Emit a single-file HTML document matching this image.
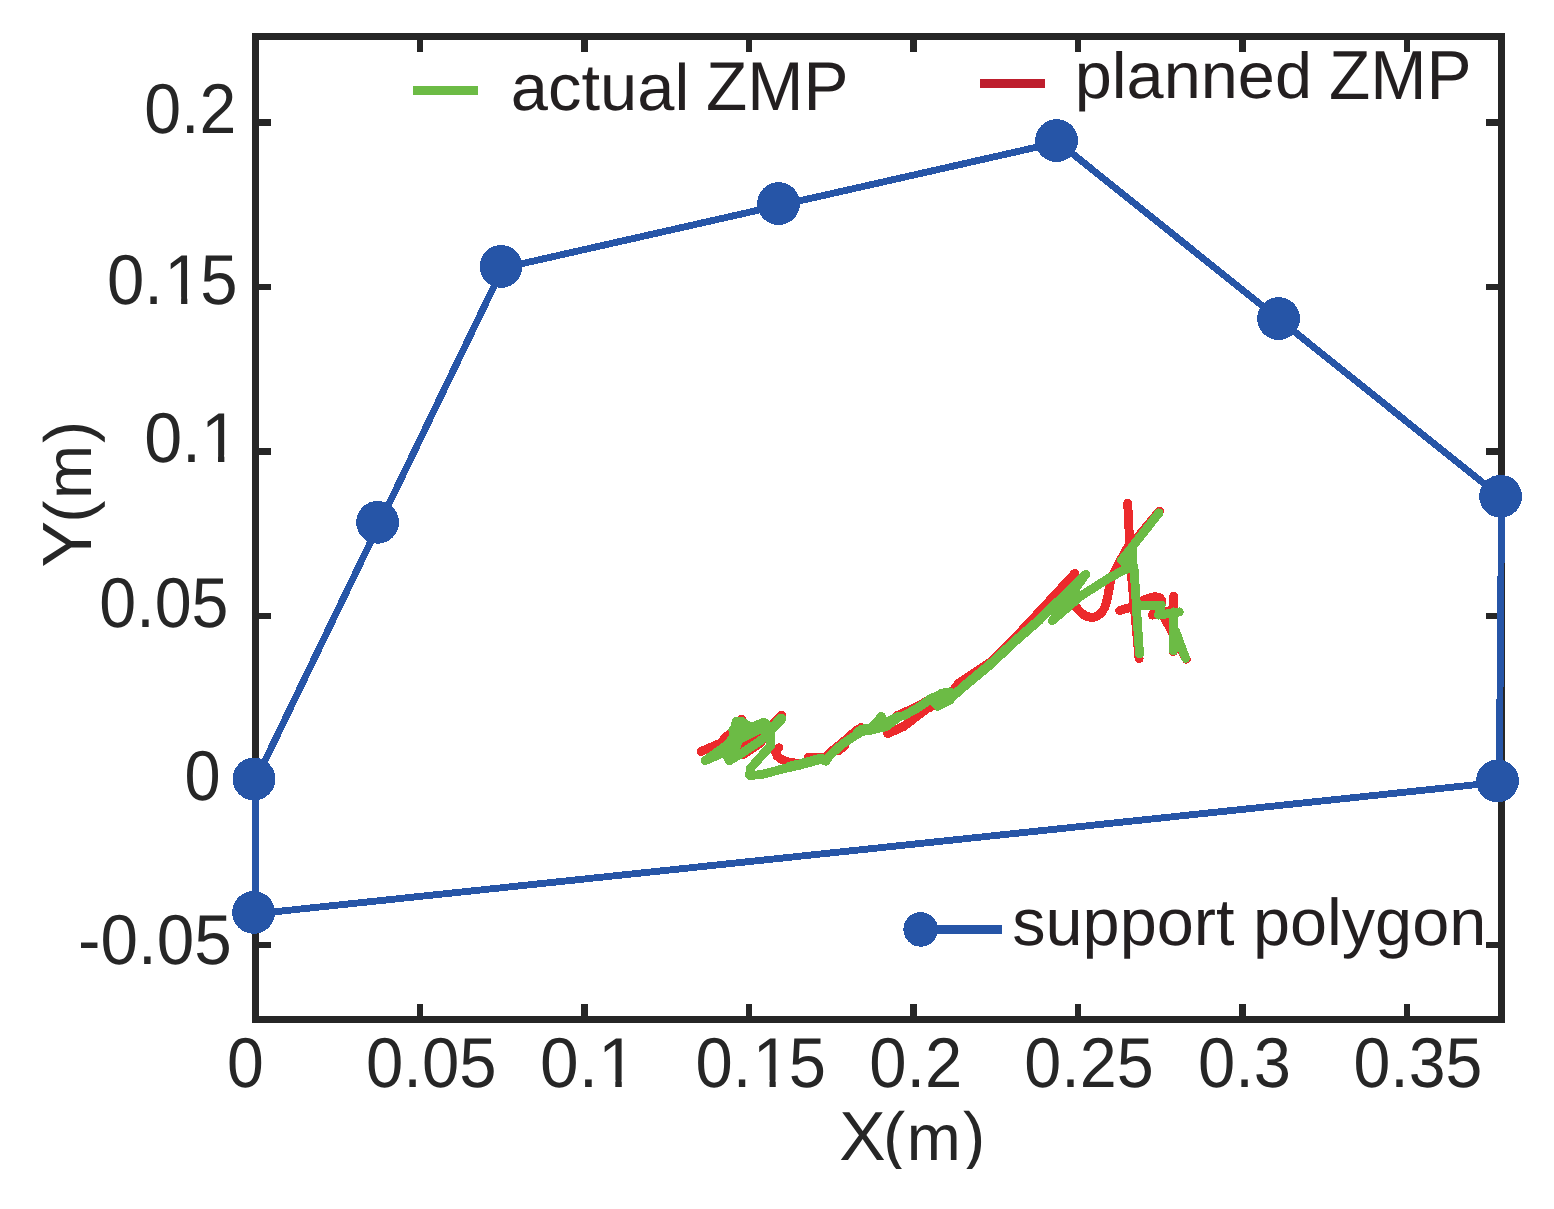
<!DOCTYPE html>
<html lang="en">
<head>
<meta charset="utf-8">
<title>ZMP tracking inside the support polygon</title>
<style>
html,body{margin:0;padding:0;background:#fff;}
body{width:1554px;height:1209px;overflow:hidden;}
svg{display:block;}
text{white-space:pre;}
</style>
</head>
<body>
<svg width="1554" height="1209" viewBox="0 0 1554 1209" role="img">
<title>ZMP tracking inside the support polygon</title>
<desc>Plot of the actual ZMP (green) and planned ZMP (red) trajectories inside the support polygon (blue). Horizontal axis X(m): 0, 0.05, 0.1, 0.15, 0.2, 0.25, 0.3, 0.35. Vertical axis Y(m): -0.05, 0, 0.05, 0.1, 0.15, 0.2.</desc>
<g shape-rendering="crispEdges">
<rect x="255.50" y="36.50" width="1246.00" height="983.00" fill="none" stroke="#262626" stroke-width="6.50"/>
<path d="M420.00 36.50 V52.00 M420.00 1019.50 V1004.00 M584.50 36.50 V52.00 M584.50 1019.50 V1004.00 M749.00 36.50 V52.00 M749.00 1019.50 V1004.00 M913.50 36.50 V52.00 M913.50 1019.50 V1004.00 M1078.00 36.50 V52.00 M1078.00 1019.50 V1004.00 M1242.50 36.50 V52.00 M1242.50 1019.50 V1004.00 M1407.00 36.50 V52.00 M1407.00 1019.50 V1004.00 M255.50 122.40 H271.00 M1501.50 122.40 H1486.00 M255.50 286.90 H271.00 M1501.50 286.90 H1486.00 M255.50 451.40 H271.00 M1501.50 451.40 H1486.00 M255.50 615.90 H271.00 M1501.50 615.90 H1486.00 M255.50 780.40 H271.00 M1501.50 780.40 H1486.00 M255.50 944.90 H271.00 M1501.50 944.90 H1486.00" fill="none" stroke="#262626" stroke-width="6.50"/>
<g fill="none" stroke-linecap="round" stroke-linejoin="round">
<path stroke="#ec2a2c" stroke-width="8.9" d="M701.0 751.4 L721.7 742.7 L724.2 738.8 L735.5 728.5 L741.6 719.1"/>
<path stroke="#ec2a2c" stroke-width="8.9" d="M781.8 715.2 L769.7 727.7"/>
<path stroke="#ec2a2c" stroke-width="8.9" d="M739.8 745.5 L758.3 735.6"/>
<path stroke="#ec2a2c" stroke-width="8.9" d="M743.2 754.6 L761.1 742.7"/>
<path stroke="#ec2a2c" stroke-width="8.9" d="M778.9 747.8 L775.4 751.2 L777.2 756.2 L782.5 760.1 L789.6 762.6 L791.6 762.4 L799.1 763.6"/>
<path stroke="#ec2a2c" stroke-width="8.9" d="M808.4 757.3 L820.5 757.3 L826.3 757.0 L830.4 752.1 L837.9 746.3 L843.7 741.4 L855.3 731.3 L861.1 727.5"/>
<path stroke="#ec2a2c" stroke-width="8.9" d="M837.9 751.0 L844.9 745.8"/>
<path stroke="#ec2a2c" stroke-width="8.9" d="M897.1 715.6 L917.9 706.3 L929.5 699.4"/>
<path stroke="#ec2a2c" stroke-width="8.9" d="M887.7 733.7 L903.6 726.5 L930.8 705.7 L929.7 707.7 L950.5 693.8 L958.6 683.4 L990.1 662.2 L1015.4 637.4 L1035.6 615.8 L1074.9 573.3"/>
<path stroke="#ec2a2c" stroke-width="8.9" d="M1075.8 606.6 L1080.3 612.0 L1085.7 616.1 L1092.0 617.6 L1097.4 616.1 L1101.9 612.5 L1105.1 606.6 L1107.4 598.5 L1109.2 588.6 L1111.0 578.7 L1118.2 564.3 L1127.2 548.0"/>
<path stroke="#ec2a2c" stroke-width="8.9" d="M1127.7 503.3 L1129.7 543.1 L1131.0 570.0 L1139.1 658.8"/>
<path stroke="#ec2a2c" stroke-width="8.9" d="M1159.4 511.1 L1129.7 546.7"/>
<path stroke="#ec2a2c" stroke-width="8.9" d="M1119.7 610.6 L1131.5 607.0 L1140.5 601.6 L1148.6 598.1 L1154.9 596.7 L1159.4 597.5 L1162.1 600.6 L1158.5 608.8 L1152.2 615.1 L1173.8 609.7"/>
<path stroke="#ec2a2c" stroke-width="8.9" d="M1173.8 596.1 L1173.4 651.6"/>
<path stroke="#ec2a2c" stroke-width="8.9" d="M1164.8 618.7 L1173.8 634.9 L1186.3 659.2"/>
<path stroke="#6cbb45" stroke-width="8.9" d="M705.2 760.6 L726.3 745.5 L732.7 738.4 L736.2 721.3 L741.2 721.3 L751.2 727.4 L764.0 722.2 L770.4 728.5"/>
<path stroke="#6cbb45" stroke-width="8.9" d="M705.2 760.6 L724.2 752.3 L729.5 760.6 L742.2 753.0 L760.0 740.9 L768.3 734.2"/>
<path stroke="#6cbb45" stroke-width="8.9" d="M729.8 745.5 L740.2 739.1 L755.2 731.3 L764.0 727.0"/>
<path stroke="#6cbb45" stroke-width="8.9" d="M732.7 729.9 L744.1 729.9 L761.1 729.9"/>
<path stroke="#6cbb45" stroke-width="8.9" d="M724.2 752.3 L735.5 749.1 L739.8 735.6"/>
<path stroke="#6cbb45" stroke-width="8.9" d="M781.8 718.0 L770.8 729.9 L770.8 745.5 L750.5 768.3 L749.6 775.4 L761.1 774.7 L800.0 764.4"/>
<path stroke="#6cbb45" stroke-width="10.2" d="M781.3 718.6 L771.1 729.5"/>
<path stroke="#6cbb45" stroke-width="10.2" d="M789.6 766.9 L800.0 764.4 L820.5 758.8 L825.8 760.5"/>
<path stroke="#6cbb45" stroke-width="8.9" d="M820.5 758.8 L825.8 760.5 L831.0 754.4 L837.9 748.1 L843.7 743.1 L852.4 737.4 L861.1 731.9 L870.0 729.5"/>
<path stroke="#6cbb45" stroke-width="8.9" d="M857.0 732.4 L862.2 729.0 L870.0 728.4"/>
<path stroke="#6cbb45" stroke-width="8.9" d="M870.0 729.5 L877.4 721.4 L881.4 716.5 L884.3 723.1 L897.1 716.8 L904.0 715.6 L917.9 707.8 L931.2 698.5 L935.3 697.6 L941.1 693.6 L950.0 691.9"/>
<path stroke="#6cbb45" stroke-width="8.9" d="M932.4 700.5 L937.6 706.3 L950.0 700.0"/>
<path stroke="#6cbb45" stroke-width="8.9" d="M870.0 730.4 L886.1 726.6 L897.1 718.5"/>
<path stroke="#6cbb45" stroke-width="8.9" d="M929.7 699.2 L943.3 692.9 L949.1 693.8 L954.1 694.7"/>
<path stroke="#6cbb45" stroke-width="9.5" d="M939.7 703.7 L950.5 698.3 L963.1 687.0 L990.1 664.5 L1017.2 639.2 L1040.0 619.4"/>
<path stroke="#6cbb45" stroke-width="8.9" d="M1040.0 618.8 L1085.7 574.4 L1052.4 620.6 L1080.9 595.9 L1107.9 578.8 L1124.1 569.8 L1133.5 567.9"/>
<path stroke="#6cbb45" stroke-width="8.9" d="M1159.0 512.9 L1121.6 560.2 L1130.6 568.8"/>
<path stroke="#6cbb45" stroke-width="8.9" d="M1132.4 548.5 L1133.3 570.1 L1134.2 570.0 L1137.5 624.1 L1139.5 653.8"/>
<path stroke="#6cbb45" stroke-width="8.9" d="M1136.9 606.1 L1161.2 605.0 L1158.5 615.1 L1179.2 611.9"/>
<path stroke="#6cbb45" stroke-width="8.9" d="M1173.4 611.9 L1173.4 650.7"/>
<path stroke="#6cbb45" stroke-width="8.9" d="M1175.6 631.3 L1185.6 658.3"/>
</g>
<path d="M255.5 780.4 L379.3 523.9 L502.8 268.0 L780.3 205.2 L1058.3 142.3 L1280.3 320.3 L1501.6 497.8 L1499.3 782.2 L255.5 913.8 Z" fill="none" stroke="#2655a7" stroke-width="6.9" stroke-linejoin="round"/>
<circle cx="254.00" cy="779.00" r="21.4" fill="#2655a7"/>
<circle cx="377.60" cy="522.30" r="21.4" fill="#2655a7"/>
<circle cx="501.05" cy="266.45" r="21.4" fill="#2655a7"/>
<circle cx="778.60" cy="203.60" r="21.4" fill="#2655a7"/>
<circle cx="1056.60" cy="140.60" r="21.4" fill="#2655a7"/>
<circle cx="1278.60" cy="318.60" r="21.4" fill="#2655a7"/>
<circle cx="1500.60" cy="496.30" r="21.4" fill="#2655a7"/>
<circle cx="1497.50" cy="780.90" r="21.4" fill="#2655a7"/>
<circle cx="253.60" cy="912.40" r="21.4" fill="#2655a7"/>
<path d="M413 90.4 H478" stroke="#6cbb45" stroke-width="8.9" fill="none"/>
<path d="M980 83.4 H1045.1" stroke="#be1e2d" stroke-width="8.9" fill="none"/>
<path d="M920.7 929.5 H1002.1" stroke="#2655a7" stroke-width="8.8" fill="none"/>
<circle cx="920.7" cy="929.4" r="17.3" fill="#2655a7"/>
</g>
<g font-family="'Liberation Sans', sans-serif" font-size="66.7px" style="font-kerning:none" text-rendering="geometricPrecision">
<g transform="matrix(0.9935 0 0 1.0588 144.21 133.21)"><text fill="#262626">0.2</text></g>
<g transform="matrix(1.0063 0 0 1.0567 106.98 304.11)"><text fill="#262626">0.<tspan dx="1.40">1</tspan><tspan dx="-1.40">5</tspan></text><rect x="60.11" y="-6.98" width="13.54" height="8.98" fill="#fff"/><rect x="79.84" y="-6.98" width="13.02" height="8.98" fill="#fff"/></g>
<g transform="matrix(1.0226 0 0 1.0567 144.14 462.21)"><text fill="#262626">0.1</text><rect x="58.71" y="-6.98" width="13.54" height="8.98" fill="#fff"/><rect x="78.44" y="-6.98" width="13.02" height="8.98" fill="#fff"/></g>
<g transform="matrix(0.9951 0 0 1.0567 99.31 627.31)"><text fill="#262626">0.05</text></g>
<g transform="matrix(0.9723 0 0 1.0588 184.57 800.31)"><text fill="#262626">0</text></g>
<g transform="matrix(1.0105 0 0 1.0567 78.01 964.41)"><text fill="#262626">-0.05</text></g>
<g transform="matrix(0.9926 0 0 1.0588 227.11 1087.31)"><text fill="#262626">0</text></g>
<g transform="matrix(1.0055 0 0 1.0588 366.08 1087.31)"><text fill="#262626">0.05</text></g>
<g transform="matrix(1.0411 0 0 1.0588 540.09 1087.31)"><text fill="#262626">0.1</text><rect x="58.71" y="-6.98" width="13.54" height="8.98" fill="#fff"/><rect x="78.44" y="-6.98" width="13.02" height="8.98" fill="#fff"/></g>
<g transform="matrix(1.0039 0 0 1.0588 695.58 1087.31)"><text fill="#262626">0.<tspan dx="1.40">1</tspan><tspan dx="-1.40">5</tspan></text><rect x="60.11" y="-6.98" width="13.54" height="8.98" fill="#fff"/><rect x="79.84" y="-6.98" width="13.02" height="8.98" fill="#fff"/></g>
<g transform="matrix(1.0050 0 0 1.0588 869.18 1087.31)"><text fill="#262626">0.2</text></g>
<g transform="matrix(0.9975 0 0 1.0588 1024.20 1087.31)"><text fill="#262626">0.25</text></g>
<g transform="matrix(1.0036 0 0 1.0588 1197.99 1087.31)"><text fill="#262626">0.3</text></g>
<g transform="matrix(0.9935 0 0 1.0588 1353.41 1087.31)"><text fill="#262626">0.35</text></g>
<clipPath id="xlab"><rect x="0" y="1090" width="1554" height="78.9"/></clipPath>
<text fill="#262626" clip-path="url(#xlab)"><tspan x="839.24" y="1159.90" font-size="69.48px">X</tspan><tspan x="882.92" y="1159.33" font-size="66.70px">(</tspan><tspan x="906.79" y="1159.90" font-size="64.83px">m</tspan><tspan x="963.12" y="1159.33" font-size="66.70px">)</tspan></text>
<text fill="#262626" transform="matrix(0 -1 1 0 90.9 566)"><tspan x="-1.43" y="0.00" font-size="69.70px">Y</tspan><tspan x="43.37" y="-0.30" font-size="66.70px">(</tspan><tspan x="66.95" y="0.00" font-size="65.03px">m</tspan><tspan x="123.07" y="-0.30" font-size="66.70px">)</tspan></text>
<text fill="#231f20"><tspan x="510.86" y="109.66" font-size="65.63px" textLength="178.41" lengthAdjust="spacingAndGlyphs">actual</tspan> <tspan x="705.96" y="109.60" font-size="69.04px" textLength="142.50" lengthAdjust="spacingAndGlyphs">ZMP</tspan></text>
<text fill="#231f20"><tspan x="1074.70" y="98.23" font-size="64.91px" textLength="237.29" lengthAdjust="spacingAndGlyphs">planned</tspan> <tspan x="1329.06" y="99.00" font-size="69.48px" textLength="142.61" lengthAdjust="spacingAndGlyphs">ZMP</tspan></text>
<g transform="matrix(0.9988 0 0 0.9908 1012.25 944.89)"><text fill="#231f20">support polygon</text></g>
</g>
</svg>
</body>
</html>
